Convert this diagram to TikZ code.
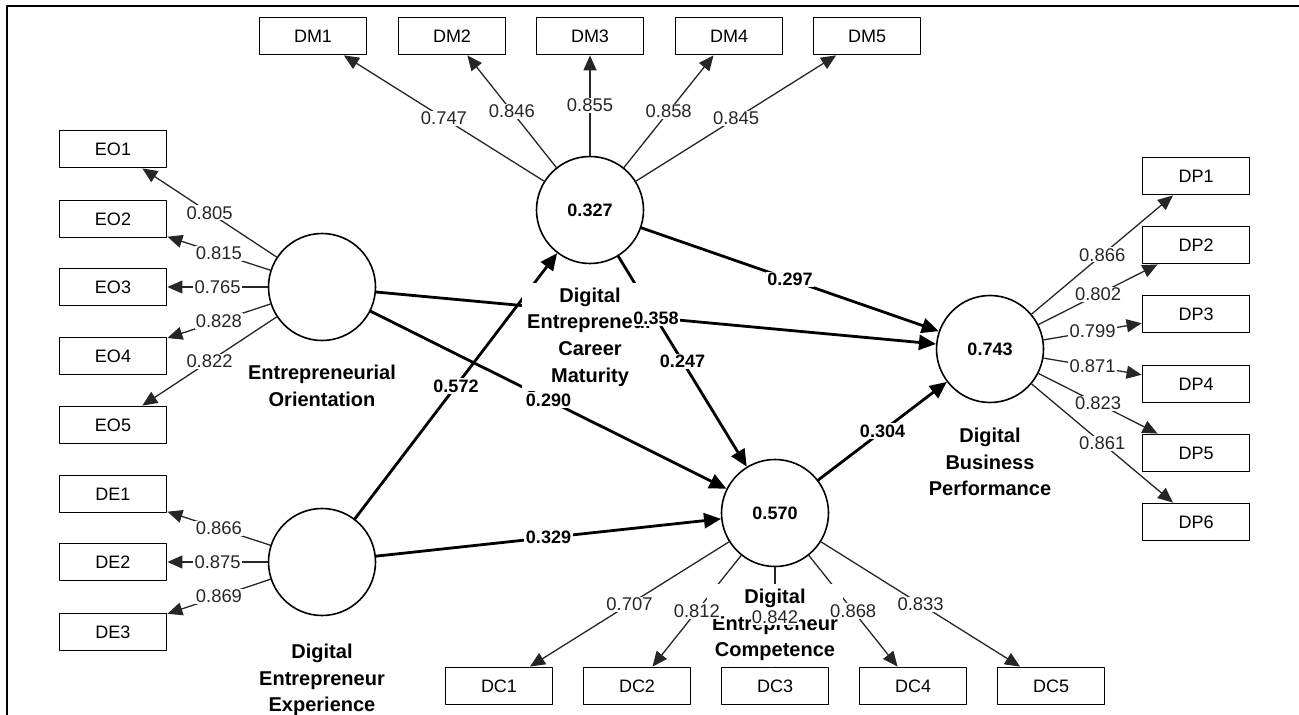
\documentclass[tikz,border=0pt]{standalone}
\usepackage{fontspec}
\setmainfont{Liberation Sans}
\usetikzlibrary{arrows.meta}
\usetikzlibrary{positioning}

\begin{document}
\begin{tikzpicture}[x=0.5pt, y=-0.5pt, line cap=round, line join=round,
    indic/.style={draw, line width=0.9pt, minimum width=53.5pt, minimum height=18.5pt, inner sep=0pt, font=\fontsize{9}{11}\selectfont},
    latent/.style={draw, circle, line width=0.8pt, minimum size=53.5pt, inner sep=0pt, font=\bfseries\fontsize{9}{11}\selectfont},
    latname/.style={fill=white, align=center, inner sep=2.5pt, font=\bfseries\fontsize{10}{13.3}\selectfont},
    loadarrow/.style={draw=black!85, line width=0.65pt, -{Triangle[length=7.5pt, width=6.5pt]}},
    loadval/.style={fill=white, inner sep=0.6pt, text=black!85, font=\fontsize{9.2}{11}\selectfont},
    structarrow/.style={line width=1.4pt, -{Triangle[length=8.5pt, width=7.5pt]}},
    structval/.style={fill=white, inner sep=0.8pt, font=\bfseries\fontsize{9}{11}\selectfont}]
  \useasboundingbox (0,0) rectangle (1299,715);
  \draw[line width=1.2pt, line cap=butt] (7,715) -- (7,6) -- (1299,6);
  %--- Variables latentes
    \node[latent] (EO) at (322,287) {};
    \node[latent] (DE) at (322,562) {};
    \node[latent] (DM) at (590,210) {0.327};
    \node[latent] (DC) at (775,513) {0.570};
    \node[latent] (DP) at (990,349) {0.743};
  %--- Indicateurs
    \node[indic] (DM1) at (313,36) {DM1};
    \node[indic] (DM2) at (452,36) {DM2};
    \node[indic] (DM3) at (590,36) {DM3};
    \node[indic] (DM4) at (729,36) {DM4};
    \node[indic] (DM5) at (867,36) {DM5};
    \node[indic] (EO1) at (113,149) {EO1};
    \node[indic] (EO2) at (113,219) {EO2};
    \node[indic] (EO3) at (113,287) {EO3};
    \node[indic] (EO4) at (113,356) {EO4};
    \node[indic] (EO5) at (113,425) {EO5};
    \node[indic] (DE1) at (113,494) {DE1};
    \node[indic] (DE2) at (113,562) {DE2};
    \node[indic] (DE3) at (113,632) {DE3};
    \node[indic] (DP1) at (1196,176) {DP1};
    \node[indic] (DP2) at (1196,245) {DP2};
    \node[indic] (DP3) at (1196,314) {DP3};
    \node[indic] (DP4) at (1196,384) {DP4};
    \node[indic] (DP5) at (1196,453) {DP5};
    \node[indic] (DP6) at (1196,522) {DP6};
    \node[indic] (DC1) at (499,686) {DC1};
    \node[indic] (DC2) at (637,686) {DC2};
    \node[indic] (DC3) at (775,686) {DC3};
    \node[indic] (DC4) at (913,686) {DC4};
    \node[indic] (DC5) at (1051,686) {DC5};
  %--- Chemins structurels
    \draw[structarrow] (EO) -- (DP);
    \draw[structarrow] (EO) -- node[structval] {0.290} (DC);
    \draw[structarrow] (DE) -- node[structval] {0.572} (DM);
    \draw[structarrow] (DE) -- node[structval] {0.329} (DC);
    \draw[structarrow] (DM) -- node[structval] {0.297} (DP);
    \draw[structarrow] (DM) -- node[structval] {0.247} (DC);
    \draw[structarrow] (DC) -- node[structval] {0.304} (DP);
  %--- Charges
    \draw[loadarrow] (DM) -- node[loadval] {0.747} (DM1);
    \draw[loadarrow] (DM) -- node[loadval] {0.846} (DM2);
    \draw[loadarrow] (DM) -- node[loadval] {0.855} (DM3);
    \draw[loadarrow] (DM) -- node[loadval] {0.858} (DM4);
    \draw[loadarrow] (DM) -- node[loadval] {0.845} (DM5);
    \draw[loadarrow] (EO) -- node[loadval] {0.805} (EO1);
    \draw[loadarrow] (EO) -- node[loadval] {0.815} (EO2);
    \draw[loadarrow] (EO) -- node[loadval] {0.765} (EO3);
    \draw[loadarrow] (EO) -- node[loadval] {0.828} (EO4);
    \draw[loadarrow] (EO) -- node[loadval] {0.822} (EO5);
    \draw[loadarrow] (DE) -- node[loadval] {0.866} (DE1);
    \draw[loadarrow] (DE) -- node[loadval] {0.875} (DE2);
    \draw[loadarrow] (DE) -- node[loadval] {0.869} (DE3);
    \draw[loadarrow] (DP) -- node[loadval] {0.866} (DP1);
    \draw[loadarrow] (DP) -- node[loadval] {0.802} (DP2);
    \draw[loadarrow] (DP) -- node[loadval] {0.799} (DP3);
    \draw[loadarrow] (DP) -- node[loadval] {0.871} (DP4);
    \draw[loadarrow] (DP) -- node[loadval] {0.823} (DP5);
    \draw[loadarrow] (DP) -- node[loadval] {0.861} (DP6);
    \draw[loadarrow] (DC) -- node[loadval] {0.707} (DC1);
    \draw[loadarrow] (DC) -- (DC2);
    \draw[loadarrow] (DC) -- (DC3);
    \draw[loadarrow] (DC) -- (DC4);
    \draw[loadarrow] (DC) -- node[loadval] {0.833} (DC5);
  %--- Noms
    \node[latname] (EOname) at (322,386) {Entrepreneurial\\Orientation};
    \node[latname] (DEname) at (322,680) {Digital\\Entrepreneur\\Experience};
    \node[latname] (DMname) at (590,337) {Digital\\Entrepreneur\\Career\\Maturity};
    \node[latname] (DCname) at (775,625) {Digital\\Entrepreneur\\Competence};
    \node[latname] (DPname) at (990,462) {Digital\\Business\\Performance};
  %--- Valeurs au-dessus des noms
    \path (EO) -- node[structval] {0.358} (DP);
    \path (DC) -- node[loadval] {0.812} (DC2);
    \path (DC) -- node[loadval] {0.842} (DC3);
    \path (DC) -- node[loadval] {0.868} (DC4);
  %---
\end{tikzpicture}
\end{document}
